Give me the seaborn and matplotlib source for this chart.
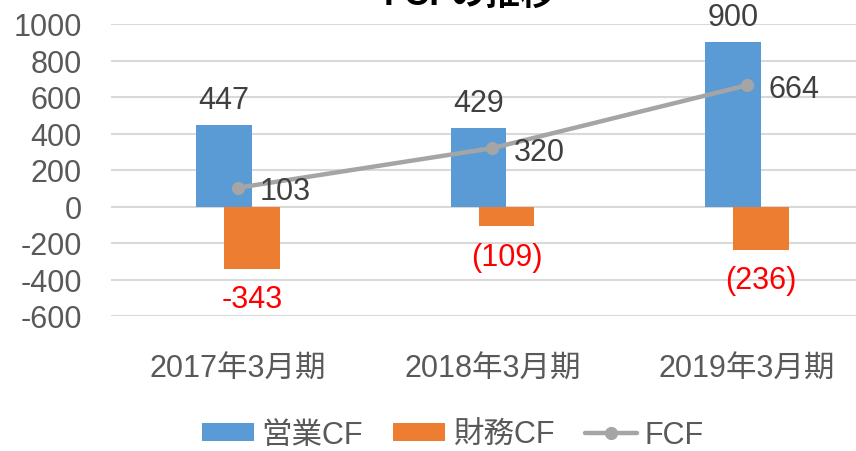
import numpy as np
import pandas as pd
import matplotlib
matplotlib.use("Agg")
import matplotlib.pyplot as plt
import seaborn as sns

categories = ["2017年3月期", "2018年3月期", "2019年3月期"]
operating_cf = [447, 429, 900]
financing_cf = [-343, -109, -236]
fcf = [103, 320, 664]
financing_labels = ["-343", "(109)", "(236)"]
yticks = [-600, -400, -200, 0, 200, 400, 600, 800, 1000]
series_names = ["営業CF", "財務CF", "FCF"]

sns.set_theme(style="white")
plt.rcParams["font.family"] = ["Liberation Sans", "Noto Sans CJK JP", "DejaVu Sans"]

BLUE = "#5B9BD5"
ORANGE = "#ED7D31"
GRAY = "#A5A5A5"
TXT = "#595959"
LBL = "#404040"

fig = plt.figure(figsize=(8.56, 4.52), dpi=100)
ax = fig.add_axes([111 / 856, 135 / 452, 763 / 856, 292 / 452])

pos = np.arange(len(categories), dtype=float)
off = 0.055
bw = 0.22

sns.barplot(x=pos - off, y=operating_cf, native_scale=True, width=bw, color=BLUE,
            saturation=1, errorbar=None, ax=ax, label=series_names[0], linewidth=0)
sns.barplot(x=pos + off, y=financing_cf, native_scale=True, width=bw, color=ORANGE,
            saturation=1, errorbar=None, ax=ax, label=series_names[1], linewidth=0)
sns.lineplot(x=pos, y=fcf, color=GRAY, linewidth=3.2, marker="o", markersize=9.5,
             markeredgewidth=0, ax=ax, label=series_names[2], zorder=5)

ax.set_xlim(-0.5, len(categories) - 0.5)
ax.set_ylim(-600, 1000)
ax.set_yticks(yticks)
ax.set_yticklabels([str(v) for v in yticks])
ax.set_xticks(pos)
ax.set_xticklabels(categories)
ax.tick_params(axis="y", length=0, pad=21, labelsize=22, labelcolor=TXT)
ax.tick_params(axis="x", length=0, pad=27, labelsize=22, labelcolor=TXT)
ax.set_xlabel("")
ax.set_ylabel("")
ax.yaxis.grid(True, color="#D9D9D9", linewidth=1.5)
ax.set_axisbelow(True)
for s in ax.spines.values():
    s.set_visible(False)

for x, v in zip(pos, operating_cf):
    ax.annotate(str(v), xy=(x - off, v), xytext=(0, 12.5), textcoords="offset points",
                ha="center", va="baseline", fontsize=22, color=LBL)
for x, v, t in zip(pos, financing_cf, financing_labels):
    ax.annotate(t, xy=(x + off, v), xytext=(0, -11), textcoords="offset points",
                ha="center", va="top", fontsize=22, color="#FF0000")
for x, v in zip(pos, fcf):
    ax.annotate(str(v), xy=(x, v), xytext=(15.5, 0), textcoords="offset points",
                ha="left", va="center_baseline", fontsize=22, color=LBL, zorder=6)

if ax.get_legend():
    ax.get_legend().remove()
handles, labels = ax.get_legend_handles_labels()
hmap = dict(zip(labels, handles))
fig.legend([hmap[n] for n in series_names], series_names, loc="center",
           bbox_to_anchor=(0.529, 0.036), ncol=3,
           frameon=False, fontsize=22, labelcolor=TXT, handlelength=1.7,
           handleheight=0.52, handletextpad=0.25, columnspacing=1.0)

fig.text(470 / 856, 1 - 5 / 452, "FCFの推移", ha="center", va="baseline",
         fontsize=25, fontweight="bold", color="black")

fig.savefig("out.png", dpi=100)
